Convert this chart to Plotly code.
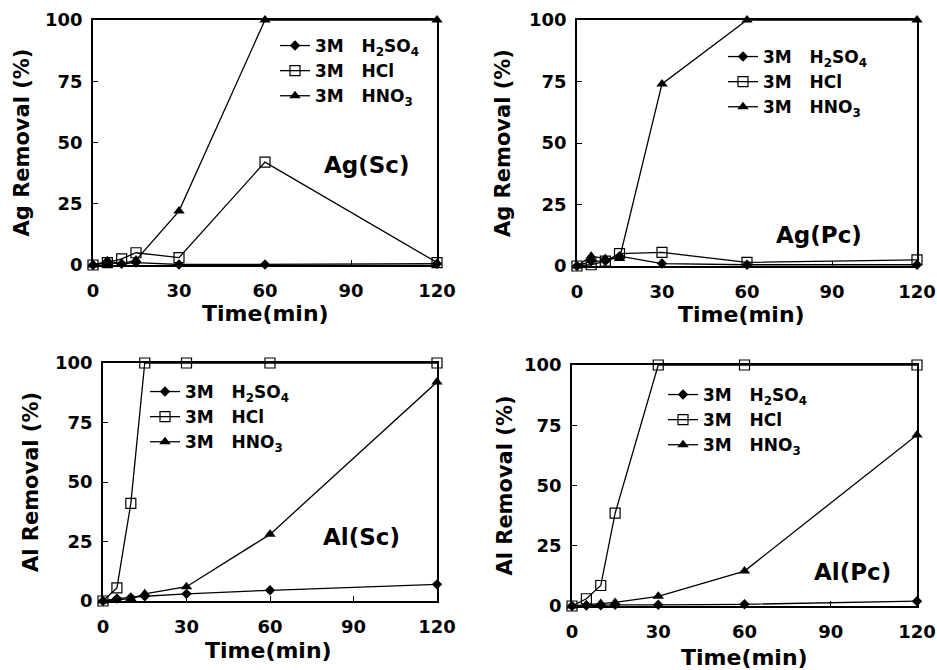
import plotly.graph_objects as go

W, H = 937, 670


def px_x(p):
    return p / W


def px_y(p):
    return 1 - p / H


time_min = [0, 5, 10, 15, 30, 60, 120]
NB = "\u00a0"
series_names = ["3M" + NB * 3 + "H<sub>2</sub>SO<sub>4</sub>",
                "3M" + NB * 3 + "HCl",
                "3M" + NB * 3 + "HNO<sub>3</sub>"]

# Ag (Sc)
ag_sc_h2so4 = [0, 1.5, 0.5, 1.0, 0.2, 0.2, 0.5]
ag_sc_hcl = [0, 1.0, 2.5, 5.0, 3.0, 42.0, 1.0]
ag_sc_hno3 = [0, 1.0, 0.5, 2.0, 22.0, 100.0, 100.0]
# Ag (Pc)
ag_pc_h2so4 = [0, 2.0, 2.0, 4.0, 1.0, 0.5, 0.5]
ag_pc_hcl = [0, 0.5, 2.0, 5.0, 5.5, 1.5, 2.5]
ag_pc_hno3 = [0, 4.0, 3.0, 3.0, 74.0, 100.0, 100.0]
# Al (Sc)
al_sc_h2so4 = [0, 1.0, 1.5, 2.0, 3.0, 4.5, 7.0]
al_sc_hcl = [0, 5.5, 41.0, 100.0, 100.0, 100.0, 100.0]
al_sc_hno3 = [0, 0.5, 1.0, 3.0, 6.0, 28.0, 92.0]
# Al (Pc)
al_pc_h2so4 = [0, 0.2, 0.3, 0.5, 0.5, 0.7, 2.0]
al_pc_hcl = [0, 3.0, 8.5, 38.5, 100.0, 100.0, 100.0]
al_pc_hno3 = [0, 0.5, 1.0, 1.5, 4.0, 14.5, 71.0]

panel_labels = ["Ag(Sc)", "Ag(Pc)", "Al(Sc)", "Al(Pc)"]
y_titles = ["Ag Removal (%)", "Ag Removal (%)", "Al Removal (%)", "Al Removal (%)"]
x_title = "Time(min)"
x_ticks = [0, 30, 60, 90, 120]
y_ticks = [0, 25, 50, 75, 100]

panels = [
    (ag_sc_h2so4, ag_sc_hcl, ag_sc_hno3),
    (ag_pc_h2so4, ag_pc_hcl, ag_pc_hno3),
    (al_sc_h2so4, al_sc_hcl, al_sc_hno3),
    (al_pc_h2so4, al_pc_hcl, al_pc_hno3),
]

# plot-area screen-pixel boxes (left, right, top, bottom)
boxes = [
    (93, 437, 20, 265),
    (577, 917, 20, 266),
    (103, 437, 363, 601),
    (572, 917, 365, 606),
]
legend_px = [(275, 28), (723, 39), (145, 374), (663, 377)]
xtitle_px = [(265, 313), (741, 314), (268, 650), (744, 657)]
label_pos = [(95.6, 40.8), (85.4, 12.6), (92.7, 26.9), (97.4, 14.1)]
ytitle_standoff = [10, 13, 11, 6]

FONT = "DejaVu Sans"
markers = [
    dict(symbol="diamond", size=8, color="black"),
    dict(symbol="square-open", size=10, color="black", line=dict(width=1.2, color="black")),
    dict(symbol="triangle-up", size=10, color="black"),
]

fig = go.Figure()
for i, data in enumerate(panels):
    ax = "" if i == 0 else str(i + 1)
    leg = "legend" if i == 0 else f"legend{i+1}"
    for j, vals in enumerate(data):
        fig.add_trace(go.Scatter(
            x=time_min, y=vals, mode="lines+markers",
            name=series_names[j],
            line=dict(color="black", width=1.3),
            marker=markers[j],
            cliponaxis=False,
            xaxis="x" + ax, yaxis="y" + ax,
            legend=leg,
        ))
    l, r, t, b = boxes[i]
    xd = [px_x(l), px_x(r)]
    yd = [px_y(b), px_y(t)]
    common = dict(showline=True, mirror=True, linecolor="black", linewidth=1.5,
                  ticks="inside", ticklen=5, tickcolor="black", tickwidth=1.2,
                  showgrid=False, zeroline=False, automargin=False,
                  tickfont=dict(family=FONT, size=18, color="black", weight="bold"))
    fig.update_layout(**{
        "xaxis" + ax: dict(domain=xd, range=[0, 120], tickvals=x_ticks,
                           anchor="y" + ax, ticklabelstandoff=9,
                           **common),
        "yaxis" + ax: dict(domain=yd, range=[0, 100], tickvals=y_ticks,
                           anchor="x" + ax, ticklabelstandoff=5,
                           title=dict(text="<b>" + y_titles[i] + "</b>",
                                      standoff=ytitle_standoff[i],
                                      font=dict(family=FONT, size=21, color="black")),
                           **common),
        leg: dict(x=px_x(legend_px[i][0]), y=px_y(legend_px[i][1]),
                  xanchor="left", yanchor="top", bgcolor="rgba(0,0,0,0)",
                  itemwidth=30, tracegroupgap=0,
                  font=dict(family=FONT, size=17, color="black", weight="bold")),
    })
    fig.add_annotation(x=label_pos[i][0], y=label_pos[i][1],
                       xref="x" + ax, yref="y" + ax,
                       text="<b>" + panel_labels[i] + "</b>", showarrow=False,
                       font=dict(family=FONT, size=23, color="black"))
    fig.add_annotation(x=px_x(xtitle_px[i][0]), y=px_y(xtitle_px[i][1]),
                       xref="paper", yref="paper", xanchor="center", yanchor="middle",
                       text="<b>" + x_title + "</b>", showarrow=False,
                       font=dict(family=FONT, size=22, color="black"))

fig.update_layout(width=W, height=H,
                  margin=dict(l=0, r=0, t=0, b=0, autoexpand=False),
                  paper_bgcolor="white", plot_bgcolor="white", showlegend=True)
fig.write_html(
    "out.html",
    config={"displayModeBar": False},
    post_script=("document.body.style.margin='0';"
                 "document.body.style.overflow='hidden';"
                 "document.documentElement.style.overflow='hidden';"),
)
